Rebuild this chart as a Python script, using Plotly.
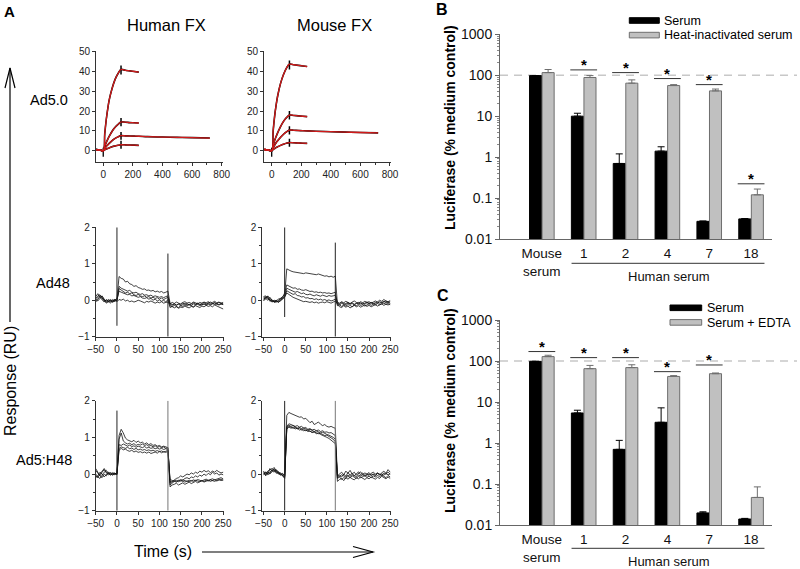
import math
import plotly.graph_objects as go

W, H = 800, 569
FONT = "Arial, 'Liberation Sans', sans-serif"

# ---------------- Panel A: Ad5.0 sensorgrams (RU) ----------------
t_ad5 = [-50, -25, 0, 10, 20, 30, 40, 60, 80, 100, 120, 150, 180, 210, 240]
t_ad5_long = t_ad5 + [300, 400, 500, 600, 720]

ad5_hum_1 = [0.6, 0.4, 0, 8.5, 15.5, 21, 25.5, 31.5, 36, 39, 41, 40.6, 40.3, 40.0, 39.7]
ad5_hum_2 = [0.6, 0.4, 0, 2.2, 4.1, 5.7, 7.2, 9.8, 11.8, 13.3, 14.5, 14.4, 14.2, 14.1, 14.0]
ad5_hum_3 = [0.6, 0.4, 0, 1.1, 2.1, 2.9, 3.7, 5.1, 6.2, 7.0, 7.6, 7.5, 7.4, 7.35, 7.3, 7.1, 6.9, 6.75, 6.6, 6.4]
ad5_hum_4 = [0.6, 0.4, 0, 0.45, 0.8, 1.1, 1.4, 2.0, 2.4, 2.75, 3.0, 2.95, 2.85, 2.8, 2.7]
ad5_hum_spike0 = [-3.0, 1.5]
ad5_hum_spike120 = [[38.5, 43.0], [12.3, 16.5], [5.5, 9.5], [1.0, 5.0]]

ad5_mou_1 = [0.6, 0.4, 0, 10, 17.5, 23, 27.5, 34, 38.5, 41.7, 43.7, 43.4, 43.1, 42.8, 42.5]
ad5_mou_2 = [0.6, 0.4, 0, 2.8, 5.2, 7.2, 9.0, 12.2, 14.8, 16.7, 18.0, 17.8, 17.6, 17.4, 17.2]
ad5_mou_3 = [0.6, 0.4, 0, 1.5, 2.8, 4.0, 5.0, 6.8, 8.3, 9.5, 10.4, 10.3, 10.2, 10.1, 10.0, 9.8, 9.6, 9.4, 9.2, 9.0]
ad5_mou_4 = [0.6, 0.4, 0, 0.6, 1.1, 1.6, 2.0, 2.7, 3.3, 3.8, 4.1, 4.0, 3.9, 3.8, 3.7]
ad5_mou_spike0 = [-3.0, 1.5]
ad5_mou_spike120 = [[41.0, 45.5], [15.8, 20.0], [8.2, 12.4], [2.0, 6.0]]

# ---------------- Panel A: noisy sensorgrams (RU), every 5 s from -50 to 250 ----------------
t_noisy = list(range(-50, 255, 5))

ad48_hum = [
    [0.05, 0.12, 0.15, 0.08, -0.02, 0.0, -0.05, 0.02, -0.03, 0.0, 0.05]
    + [0.65, 0.6, 0.58, 0.5, 0.52, 0.45, 0.43, 0.38, 0.4, 0.35, 0.33, 0.3, 0.31, 0.27, 0.28, 0.25, 0.27, 0.23, 0.25, 0.22, 0.24, 0.2, 0.22, 0.25]
    + [-0.08, -0.12, -0.1, -0.14, -0.1, -0.12, -0.08, -0.11, -0.09, -0.13, -0.1, -0.07, -0.1, -0.08, -0.12, -0.09, -0.06, -0.1, -0.08, -0.05, -0.09, -0.07, -0.1, -0.06, -0.08, -0.1],
    [0.0, 0.08, 0.12, 0.1, 0.02, -0.06, 0.0, -0.04, 0.02, -0.02, 0.0]
    + [0.38, 0.33, 0.3, 0.28, 0.25, 0.27, 0.22, 0.2, 0.22, 0.18, 0.16, 0.18, 0.14, 0.15, 0.12, 0.14, 0.1, 0.12, 0.1, 0.08, 0.1, 0.07, 0.1, 0.12]
    + [-0.15, -0.18, -0.14, -0.16, -0.2, -0.15, -0.17, -0.13, -0.16, -0.12, -0.15, -0.18, -0.13, -0.11, -0.15, -0.12, -0.1, -0.14, -0.11, -0.13, -0.09, -0.12, -0.1, -0.13, -0.11, -0.12],
    [-0.05, 0.02, 0.1, 0.05, 0.0, -0.08, -0.03, 0.0, -0.06, 0.02, -0.02]
    + [0.32, 0.28, 0.25, 0.2, 0.22, 0.18, 0.2, 0.15, 0.13, 0.16, 0.12, 0.1, 0.12, 0.08, 0.1, 0.06, 0.08, 0.05, 0.07, 0.03, 0.06, 0.02, 0.05, 0.08]
    + [-0.1, -0.06, -0.09, -0.05, -0.08, -0.1, -0.06, -0.04, -0.08, -0.06, -0.09, -0.05, -0.07, -0.1, -0.06, -0.08, -0.05, -0.07, -0.04, -0.08, -0.06, -0.03, -0.07, -0.05, -0.08, -0.06],
    [0.1, 0.18, 0.08, 0.0, -0.05, 0.02, -0.04, -0.08, 0.0, -0.04, 0.02]
    + [0.25, 0.22, 0.2, 0.18, 0.15, 0.16, 0.12, 0.13, 0.1, 0.08, 0.1, 0.06, 0.05, 0.07, 0.03, 0.05, 0.0, 0.03, -0.02, 0.01, -0.03, 0.0, -0.05, 0.02]
    + [-0.2, -0.17, -0.21, -0.18, -0.22, -0.19, -0.2, -0.16, -0.19, -0.21, -0.17, -0.19, -0.15, -0.18, -0.2, -0.16, -0.18, -0.14, -0.17, -0.15, -0.18, -0.13, -0.16, -0.19, -0.22, -0.24],
    [0.02, -0.02, 0.05, 0.12, 0.03, -0.03, 0.02, -0.02, -0.05, 0.03, -0.04]
    + [0.02, 0.0, 0.03, -0.02, 0.0, -0.04, -0.02, -0.05, -0.03, 0.0, -0.02, -0.05, -0.07, -0.03, -0.05, -0.02, -0.06, -0.08, -0.05, -0.07, -0.04, -0.08, -0.06, -0.05]
    + [-0.12, -0.14, -0.1, -0.13, -0.11, -0.15, -0.12, -0.09, -0.13, -0.11, -0.14, -0.1, -0.12, -0.09, -0.11, -0.13, -0.1, -0.12, -0.08, -0.11, -0.1, -0.07, -0.1, -0.12, -0.09, -0.11],
]
ad48_hum_spike0 = [-0.7, 2.0]
ad48_hum_spike120 = [-1.0, 1.28]

ad48_mou = [
    [0.1, 0.12, 0.05, 0.02, -0.03, 0.0, -0.02, 0.03, 0.05, 0.1, 0.15]
    + [0.86, 0.82, 0.8, 0.78, 0.77, 0.74, 0.75, 0.72, 0.73, 0.75, 0.74, 0.72, 0.73, 0.71, 0.7, 0.72, 0.7, 0.68, 0.66, 0.67, 0.64, 0.66, 0.63, 0.66]
    + [-0.1, -0.14, -0.08, -0.12, -0.1, -0.06, -0.11, -0.09, -0.13, -0.08, -0.1, -0.07, -0.11, -0.08, -0.05, -0.09, -0.07, -0.1, -0.06, -0.08, -0.04, -0.07, -0.05, -0.02, -0.06, -0.04],
    [0.05, 0.08, 0.1, 0.0, -0.05, -0.02, -0.06, 0.0, 0.02, 0.08, 0.2]
    + [0.42, 0.38, 0.36, 0.33, 0.34, 0.3, 0.31, 0.28, 0.27, 0.29, 0.26, 0.24, 0.25, 0.22, 0.23, 0.21, 0.22, 0.2, 0.21, 0.19, 0.2, 0.18, 0.2, 0.22]
    + [-0.15, -0.12, -0.17, -0.13, -0.16, -0.12, -0.14, -0.18, -0.13, -0.15, -0.11, -0.14, -0.12, -0.16, -0.13, -0.1, -0.14, -0.11, -0.13, -0.09, -0.12, -0.1, -0.08, -0.11, -0.09, -0.12],
    [0.0, 0.1, 0.06, -0.03, 0.02, -0.05, -0.02, -0.04, 0.05, 0.06, 0.12]
    + [0.33, 0.3, 0.27, 0.25, 0.22, 0.24, 0.2, 0.18, 0.2, 0.16, 0.15, 0.17, 0.14, 0.12, 0.15, 0.13, 0.11, 0.14, 0.12, 0.1, 0.13, 0.11, 0.12, 0.14]
    + [-0.05, -0.08, -0.04, -0.07, -0.03, -0.06, -0.09, -0.05, -0.02, -0.06, -0.08, -0.04, -0.07, -0.03, -0.06, -0.04, -0.08, -0.05, -0.02, -0.05, 0.0, -0.03, 0.02, -0.02, -0.04, -0.01],
    [0.08, 0.03, 0.12, 0.05, -0.02, -0.04, 0.0, -0.06, 0.0, 0.04, 0.1]
    + [0.26, 0.22, 0.2, 0.16, 0.18, 0.13, 0.12, 0.09, 0.1, 0.06, 0.07, 0.04, 0.05, 0.02, 0.04, 0.01, 0.03, 0.0, 0.02, -0.01, 0.01, -0.02, 0.0, 0.03]
    + [-0.12, -0.18, -0.2, -0.15, -0.19, -0.16, -0.21, -0.17, -0.14, -0.18, -0.15, -0.19, -0.16, -0.13, -0.17, -0.14, -0.18, -0.15, -0.12, -0.16, -0.13, -0.1, -0.14, -0.11, -0.13, -0.1],
    [-0.02, 0.05, 0.0, 0.08, 0.0, -0.06, -0.03, -0.05, -0.02, 0.02, 0.08]
    + [0.2, 0.15, 0.12, 0.08, 0.06, 0.03, 0.0, -0.02, -0.04, -0.03, -0.05, -0.06, -0.04, -0.07, -0.05, -0.08, -0.06, -0.05, -0.07, -0.04, -0.06, -0.08, -0.05, -0.03]
    + [-0.08, -0.1, -0.06, -0.09, -0.12, -0.08, -0.1, -0.07, -0.11, -0.09, -0.06, -0.1, -0.08, -0.11, -0.07, -0.09, -0.06, -0.08, -0.1, -0.05, -0.08, -0.06, -0.03, -0.07, -0.05, -0.08],
]
ad48_mou_spike0 = [-0.46, 2.0]
ad48_mou_spike120 = [-1.0, 1.58]

h48_hum = [
    [0.1, 0.02, -0.05, 0.05, 0.12, 0.03, -0.02, 0.02, -0.03, 0.01, 0.0]
    + [1.05, 1.22, 1.12, 0.98, 0.93, 0.9, 0.88, 0.92, 0.86, 0.9, 0.85, 0.87, 0.82, 0.85, 0.8, 0.83, 0.78, 0.8, 0.76, 0.78, 0.74, 0.76, 0.73, 0.72]
    + [-0.25, -0.2, -0.15, -0.12, -0.1, -0.05, -0.08, -0.03, 0.0, -0.02, 0.03, 0.0, 0.05, 0.02, 0.08, 0.05, 0.1, 0.06, 0.09, 0.04, 0.08, 0.05, 0.1, 0.06, 0.03, 0.05],
    [-0.05, -0.1, 0.0, 0.08, 0.15, 0.05, 0.0, -0.03, 0.02, -0.02, 0.02]
    + [0.95, 1.12, 0.9, 0.85, 0.82, 0.84, 0.8, 0.83, 0.78, 0.81, 0.79, 0.82, 0.78, 0.8, 0.76, 0.78, 0.74, 0.77, 0.73, 0.75, 0.72, 0.74, 0.7, 0.72]
    + [-0.3, -0.25, -0.2, -0.22, -0.18, -0.15, -0.17, -0.12, -0.1, -0.13, -0.08, -0.1, -0.05, -0.08, -0.03, -0.06, 0.0, -0.04, 0.02, -0.02, 0.05, 0.0, 0.03, -0.03, 0.0, -0.02],
    [0.0, -0.08, -0.12, -0.02, 0.05, 0.1, 0.02, 0.04, 0.0, 0.03, -0.02]
    + [0.8, 0.78, 0.82, 0.8, 0.76, 0.79, 0.75, 0.77, 0.73, 0.76, 0.74, 0.72, 0.75, 0.71, 0.73, 0.7, 0.72, 0.69, 0.71, 0.68, 0.7, 0.67, 0.69, 0.66]
    + [-0.2, -0.22, -0.18, -0.2, -0.17, -0.19, -0.16, -0.18, -0.2, -0.17, -0.19, -0.16, -0.18, -0.15, -0.17, -0.19, -0.16, -0.14, -0.17, -0.15, -0.13, -0.16, -0.14, -0.12, -0.1, -0.13],
    [0.15, 0.05, -0.05, -0.1, 0.0, -0.05, 0.03, -0.02, 0.04, 0.0, 0.03]
    + [0.7, 0.74, 0.72, 0.7, 0.73, 0.69, 0.71, 0.67, 0.7, 0.66, 0.68, 0.65, 0.67, 0.64, 0.66, 0.63, 0.65, 0.62, 0.64, 0.61, 0.63, 0.6, 0.62, 0.65]
    + [-0.35, -0.3, -0.28, -0.25, -0.3, -0.27, -0.24, -0.28, -0.25, -0.22, -0.26, -0.23, -0.2, -0.24, -0.21, -0.18, -0.22, -0.19, -0.17, -0.2, -0.18, -0.15, -0.19, -0.16, -0.14, -0.17],
    [-0.1, -0.05, 0.05, 0.0, -0.08, 0.0, 0.05, 0.0, -0.02, 0.02, -0.01]
    + [0.65, 0.7, 0.66, 0.68, 0.64, 0.62, 0.65, 0.6, 0.63, 0.59, 0.61, 0.58, 0.6, 0.57, 0.6, 0.56, 0.58, 0.6, 0.57, 0.62, 0.58, 0.61, 0.59, 0.62]
    + [-0.15, -0.18, -0.2, -0.17, -0.21, -0.18, -0.2, -0.22, -0.19, -0.21, -0.18, -0.2, -0.17, -0.19, -0.21, -0.18, -0.2, -0.17, -0.19, -0.16, -0.18, -0.2, -0.17, -0.15, -0.18, -0.16],
]
h48_hum_spike0 = [-1.0, 1.73]
h48_hum_spike120 = [-1.0, 2.0]

h48_mou = [
    [0.05, 0.0, 0.08, 0.12, 0.15, 0.1, 0.05, 0.02, -0.03, 0.0, -0.05]
    + [1.6, 1.68, 1.65, 1.62, 1.6, 1.58, 1.55, 1.56, 1.5, 1.52, 1.47, 1.4, 1.44, 1.35, 1.38, 1.42, 1.36, 1.32, 1.35, 1.3, 1.28, 1.3, 1.27, 1.25]
    + [-0.05, 0.0, 0.05, -0.02, 0.08, 0.02, 0.1, 0.0, 0.05, -0.03, 0.02, 0.06, -0.02, 0.03, 0.0, -0.04, 0.02, 0.05, 0.0, 0.03, -0.02, 0.04, 0.08, 0.02, 0.12, 0.05],
    [-0.03, 0.05, 0.0, 0.15, 0.08, 0.12, 0.02, 0.05, 0.0, -0.04, -0.08]
    + [1.3, 1.37, 1.35, 1.33, 1.3, 1.32, 1.28, 1.3, 1.25, 1.27, 1.22, 1.24, 1.2, 1.22, 1.18, 1.2, 1.16, 1.18, 1.14, 1.15, 1.12, 1.13, 1.1, 1.05]
    + [-0.1, -0.05, -0.08, 0.0, -0.06, 0.04, -0.03, 0.02, -0.05, 0.0, 0.06, -0.02, 0.03, -0.04, 0.0, 0.04, -0.03, 0.0, -0.05, 0.02, 0.0, -0.04, 0.03, 0.0, 0.05, 0.0],
    [0.08, -0.05, 0.03, 0.05, 0.12, 0.18, 0.08, 0.0, 0.03, -0.02, -0.1]
    + [1.28, 1.33, 1.3, 1.32, 1.28, 1.25, 1.27, 1.24, 1.26, 1.22, 1.2, 1.22, 1.18, 1.16, 1.18, 1.14, 1.12, 1.14, 1.1, 1.08, 1.06, 1.04, 1.0, 0.95]
    + [-0.12, -0.08, -0.15, -0.1, -0.12, -0.06, -0.1, -0.05, -0.08, -0.12, -0.06, -0.1, -0.07, -0.04, -0.09, -0.06, -0.1, -0.05, -0.08, -0.04, -0.07, -0.03, -0.06, -0.1, -0.04, -0.08],
    [0.0, 0.06, -0.02, 0.02, 0.1, 0.05, 0.12, 0.04, -0.02, 0.02, -0.05]
    + [1.25, 1.3, 1.28, 1.25, 1.27, 1.23, 1.25, 1.2, 1.22, 1.18, 1.2, 1.16, 1.14, 1.15, 1.12, 1.1, 1.11, 1.08, 1.05, 1.06, 1.02, 0.98, 0.95, 0.88]
    + [-0.2, -0.15, -0.12, -0.18, -0.1, -0.14, -0.09, -0.13, -0.16, -0.1, -0.13, -0.08, -0.12, -0.15, -0.1, -0.13, -0.08, -0.11, -0.14, -0.09, -0.12, -0.06, -0.1, -0.13, -0.08, -0.12],
    [0.02, -0.02, 0.05, 0.0, 0.06, 0.14, 0.1, 0.06, 0.02, -0.05, -0.12]
    + [1.22, 1.28, 1.25, 1.27, 1.23, 1.25, 1.2, 1.22, 1.18, 1.2, 1.16, 1.17, 1.13, 1.15, 1.1, 1.12, 1.08, 1.06, 1.04, 1.0, 0.97, 0.92, 0.88, 0.83]
    + [-0.03, -0.06, -0.02, -0.05, -0.08, -0.03, -0.06, -0.02, -0.05, -0.07, -0.03, -0.05, -0.02, -0.06, -0.03, 0.0, -0.04, -0.01, -0.03, 0.02, -0.02, 0.0, -0.03, 0.01, -0.02, 0.0],
]
h48_mou_spike0 = [-1.0, 2.0]
h48_mou_spike120 = [-1.0, 2.0]

for grp in (ad48_hum, ad48_mou, h48_hum, h48_mou):
    for tr in grp:
        assert len(tr) == len(t_noisy), len(tr)

# ---------------- Panels B and C: luciferase (% medium control) ----------------
cats = ["Mouse<br>serum", "1", "2", "4", "7", "18"]
cat_pos = [0, 1, 2, 3, 4, 5]

B_serum = [98, 10, 0.70, 1.40, 0.027, 0.031]
B_serum_err = [0, 1.8, 0.5, 0.39, 0.0005, 0.0005]
B_heat = [116, 88, 64, 56, 41.5, 0.12]
B_heat_err = [22, 10, 13, 3, 4.5, 0.046]
B_sig_idx = [1, 2, 3, 4, 5]
B_sig_y = [135, 116, 83, 59, 0.223]

C_serum = [98, 5.4, 0.70, 3.2, 0.0197, 0.014]
C_serum_err = [0, 0.9, 0.46, 4.0, 0.0013, 0.0005]
C_edta = [128, 65, 69, 42, 49, 0.047]
C_edta_err = [10, 13, 12, 2, 2, 0.038]
C_sig_idx = [0, 1, 2, 3, 4]
C_sig_y = [170, 121, 121, 55, 80]

REF_LEVEL = 100  # medium control level (dashed line)


def X(px):
    return px / W


def Y(py):
    return 1 - py / H


fig = go.Figure()
annotations = []
shapes = []

LINE = dict(color="#111", width=0.8)


def add_ad5(ax, curves, long_idx, spike0, spike120):
    xa, ya = ("x", "y") if ax == 1 else ("x%d" % ax, "y%d" % ax)
    for i, c in enumerate(curves):
        t = t_ad5_long if i == long_idx else t_ad5
        fig.add_trace(go.Scatter(x=t, y=c, mode="lines", xaxis=xa, yaxis=ya,
                                 line=dict(color="#000", width=1.6, shape="spline"), showlegend=False))
    fig.add_trace(go.Scatter(x=[0, 0], y=spike0, mode="lines", xaxis=xa, yaxis=ya,
                             line=dict(color="#000", width=1.3), showlegend=False))
    for s in spike120:
        fig.add_trace(go.Scatter(x=[120, 120], y=s, mode="lines", xaxis=xa, yaxis=ya,
                                 line=dict(color="#000", width=1.5), showlegend=False))
    for i, c in enumerate(curves):
        t = t_ad5_long if i == long_idx else t_ad5
        fig.add_trace(go.Scatter(x=t, y=c, mode="lines", xaxis=xa, yaxis=ya,
                                 line=dict(color="#d11a1a", width=1.3, shape="spline"),
                                 showlegend=False))


add_ad5(1, [ad5_hum_1, ad5_hum_2, ad5_hum_3, ad5_hum_4], 2, ad5_hum_spike0, ad5_hum_spike120)
add_ad5(2, [ad5_mou_1, ad5_mou_2, ad5_mou_3, ad5_mou_4], 2, ad5_mou_spike0, ad5_mou_spike120)


def add_noisy(ax, traces, spike0, spike120, spike120_color="#222"):
    xa, ya = "x%d" % ax, "y%d" % ax
    for tr in traces:
        fig.add_trace(go.Scatter(x=t_noisy, y=tr, mode="lines", xaxis=xa, yaxis=ya,
                                 line=LINE, showlegend=False))
    fig.add_trace(go.Scatter(x=[0, 0], y=spike0, mode="lines", xaxis=xa, yaxis=ya,
                             line=dict(color="#222", width=1), showlegend=False))
    fig.add_trace(go.Scatter(x=[120, 120], y=spike120, mode="lines", xaxis=xa, yaxis=ya,
                             line=dict(color=spike120_color, width=1), showlegend=False))


add_noisy(3, ad48_hum, ad48_hum_spike0, ad48_hum_spike120)
add_noisy(4, ad48_mou, ad48_mou_spike0, ad48_mou_spike120)
add_noisy(5, h48_hum, h48_hum_spike0, h48_hum_spike120, "#777")
add_noisy(6, h48_mou, h48_mou_spike0, h48_mou_spike120, "#777")


def add_bars(ax, serum, serum_err, treat, treat_err, sig_idx, sig_y):
    xa, ya = "x%d" % ax, "y%d" % ax
    fig.add_trace(go.Bar(x=cat_pos, y=serum, xaxis=xa, yaxis=ya, offsetgroup="a",
                         marker=dict(color="#000", line=dict(color="#000", width=1)),
                         error_y=dict(type="data", array=serum_err, arrayminus=[0] * 6,
                                      symmetric=False, color="#000", thickness=1, width=3.5),
                         showlegend=False))
    fig.add_trace(go.Bar(x=cat_pos, y=treat, xaxis=xa, yaxis=ya, offsetgroup="b",
                         marker=dict(color="#c0c0c0", line=dict(color="#6e6e6e", width=1)),
                         error_y=dict(type="data", array=treat_err, arrayminus=[0] * 6,
                                      symmetric=False, color="#6e6e6e", thickness=1, width=3.5),
                         showlegend=False))
    for i, v in zip(sig_idx, sig_y):
        fig.add_trace(go.Scatter(x=[i - 0.32, i + 0.32], y=[v, v], mode="lines",
                                 xaxis=xa, yaxis=ya, line=dict(color="#333", width=1),
                                 showlegend=False))
        annotations.append(dict(x=i, y=math.log10(v), xref=xa, yref=ya, text="<b>*</b>",
                                showarrow=False, yshift=5, xanchor="center", yanchor="middle",
                                font=dict(size=15, color="#000", family=FONT)))


add_bars(7, B_serum, B_serum_err, B_heat, B_heat_err, B_sig_idx, B_sig_y)
add_bars(8, C_serum, C_serum_err, C_edta, C_edta_err, C_sig_idx, C_sig_y)

AX = "#333"


def spr_axis(domain, rng, anchor, dtick, minor_dtick, tick0=0):
    d = dict(domain=domain, range=rng, anchor=anchor, showline=True, linecolor=AX, linewidth=1,
             ticks="outside", ticklen=3, tickcolor=AX, tickwidth=1, dtick=dtick, tick0=tick0,
             showgrid=False, zeroline=False, fixedrange=True, automargin=False,
             tickfont=dict(size=10, color="#222", family=FONT))
    if minor_dtick:
        d["minor"] = dict(ticks="outside", ticklen=2, dtick=minor_dtick, tickcolor=AX, showgrid=False)
    return d


minor_log = [m * 10 ** e for e in range(-2, 3) for m in range(2, 10)]


def bar_y(domain, anchor):
    return dict(domain=domain, anchor=anchor, type="log", range=[-2, 3],
                tickvals=[0.01, 0.1, 1, 10, 100, 1000],
                ticktext=["0.01", "0.1", "1", "10", "100", "1000"],
                showline=True, linecolor="#666", linewidth=1, ticks="outside", ticklen=4,
                tickcolor="#666", showgrid=False, zeroline=False, fixedrange=True, automargin=False,
                tickfont=dict(size=14, color="#111", family=FONT),
                minor=dict(ticks="outside", ticklen=2, tickcolor="#888", tickvals=minor_log,
                           showgrid=False))


def bar_x(domain, anchor):
    return dict(domain=domain, anchor=anchor, range=[-1, 5.5], tickvals=cat_pos, ticktext=cats,
                showline=True, linecolor="#666", linewidth=1, ticks="outside", ticklen=2,
                tickcolor="rgba(0,0,0,0)", showgrid=False, zeroline=False, fixedrange=True,
                automargin=False, tickfont=dict(size=13.5, color="#111", family=FONT))


row1 = [Y(162), Y(50.7)]
row2 = [Y(336.7), Y(227.3)]
row3 = [Y(510.7), Y(400.7)]
colL1 = [X(96), X(223)]
colR1 = [X(264), X(391)]
colL = [X(95.7), X(224)]
colR = [X(262.3), X(391)]


def txt(x, y, s, size, bold=False, xanchor="center", angle=0, color="#000"):
    annotations.append(dict(x=X(x), y=Y(y), xref="paper", yref="paper", showarrow=False,
                            text=("<b>%s</b>" % s) if bold else s, xanchor=xanchor,
                            yanchor="middle", textangle=angle,
                            font=dict(size=size, color=color, family=FONT)))


# Panel A text
txt(9, 12, "A", 15, bold=True)
txt(166, 25, "Human FX", 16.5)
txt(334, 25, "Mouse FX", 16.5)
txt(70, 100, "Ad5.0", 14.5, xanchor="right")
txt(72, 283, "Ad48", 14.5, xanchor="right")
txt(74, 460, "Ad5:H48", 14.5, xanchor="right")
txt(10, 381, "Response (RU)", 16, angle=-90)
txt(163, 551, "Time (s)", 16)

# arrows (open chevron heads)
shapes.append(dict(type="line", xref="paper", yref="paper", x0=X(10), x1=X(10), y0=Y(322), y1=Y(68),
                   line=dict(color="#000", width=1.2)))
shapes.append(dict(type="path", xref="paper", yref="paper",
                   path="M %f %f L %f %f L %f %f" % (X(5), Y(88), X(10), Y(68), X(15), Y(88)),
                   line=dict(color="#000", width=1.2)))
shapes.append(dict(type="line", xref="paper", yref="paper", x0=X(202), x1=X(373), y0=Y(552), y1=Y(552),
                   line=dict(color="#000", width=1.2)))
shapes.append(dict(type="path", xref="paper", yref="paper",
                   path="M %f %f L %f %f L %f %f" % (X(353), Y(546.5), X(373), Y(552), X(353), Y(557.5)),
                   line=dict(color="#000", width=1.2)))

# Panels B / C text
txt(442, 10, "B", 16, bold=True)
txt(443, 295, "C", 16, bold=True)
txt(450, 128, "Luciferase (% medium control)", 14, bold=True, angle=-90)
txt(450, 411, "Luciferase (% medium control)", 14, bold=True, angle=-90)


def legend(y_top, label1, label2, x0, x1):
    shapes.append(dict(type="rect", xref="paper", yref="paper", x0=X(x0), x1=X(x1),
                       y0=Y(y_top + 5.6), y1=Y(y_top), fillcolor="#000", line=dict(color="#000", width=1)))
    shapes.append(dict(type="rect", xref="paper", yref="paper", x0=X(x0), x1=X(x1),
                       y0=Y(y_top + 20.2), y1=Y(y_top + 14.6), fillcolor="#c0c0c0",
                       line=dict(color="#6e6e6e", width=1)))
    txt(x1 + 3, y_top + 3, label1, 12.5, xanchor="left")
    txt(x1 + 3, y_top + 17.5, label2, 12.5, xanchor="left")


legend(17.7, "Serum", "Heat-inactivated serum", 629.3, 659.3)
legend(305, "Serum", "Serum + EDTA", 670, 701.7)

# dashed 100% reference lines
for ya in ("y7", "y8"):
    shapes.append(dict(type="line", xref="paper", yref=ya, x0=X(500), x1=X(797),
                       y0=REF_LEVEL, y1=REF_LEVEL,
                       line=dict(color="#c8c8c8", width=1.5, dash="8px,6px"), layer="below"))

# "Human serum" brackets
for ax, yl, yt in (("x7", 263.3, 276), ("x8", 548.3, 561)):
    shapes.append(dict(type="line", xref=ax, yref="paper", x0=0.71, x1=5.32, y0=Y(yl), y1=Y(yl),
                       line=dict(color="#333", width=1)))
    annotations.append(dict(x=3.05, y=Y(yt), xref=ax, yref="paper", showarrow=False,
                            text="Human serum", xanchor="center", yanchor="middle",
                            font=dict(size=13, color="#111", family=FONT)))

fig.update_layout(
    width=W, height=H, margin=dict(l=0, r=0, t=0, b=0, autoexpand=False),
    paper_bgcolor="white", plot_bgcolor="white",
    font=dict(family=FONT, color="#000"),
    showlegend=False, barmode="group", bargap=0.4, bargroupgap=0.04,
    hovermode=False,
    xaxis=spr_axis(colL1, [-49, 809], "y", 200, 100),
    yaxis=spr_axis(row1, [-5.7, 50.5], "x", 10, None),
    xaxis2=spr_axis(colR1, [-52, 807], "y2", 200, 100),
    yaxis2=spr_axis(row1, [-5.7, 50.5], "x2", 10, None),
    xaxis3=spr_axis(colL, [-50, 252], "y3", 50, None),
    yaxis3=spr_axis(row2, [-1, 2], "x3", 1, 0.5),
    xaxis4=spr_axis(colR, [-53, 252], "y4", 50, None),
    yaxis4=spr_axis(row2, [-1, 2], "x4", 1, 0.5),
    xaxis5=spr_axis(colL, [-50, 252], "y5", 50, None),
    yaxis5=spr_axis(row3, [-1, 2], "x5", 1, 0.5),
    xaxis6=spr_axis(colR, [-53, 252], "y6", 50, None),
    yaxis6=spr_axis(row3, [-1, 2], "x6", 1, 0.5),
    xaxis7=bar_x([X(500), X(772)], "y7"),
    yaxis7=bar_y([Y(239), Y(34.3)], "x7"),
    xaxis8=bar_x([X(500), X(772)], "y8"),
    yaxis8=bar_y([Y(525), Y(320)], "x8"),
)
fig.layout.annotations = annotations
fig.layout.shapes = shapes

fig.write_html(
    "out.html",
    config={"displayModeBar": False, "staticPlot": True},
    post_script="document.documentElement.style.margin='0';document.body.style.margin='0';"
                "document.body.style.overflow='hidden';",
)
